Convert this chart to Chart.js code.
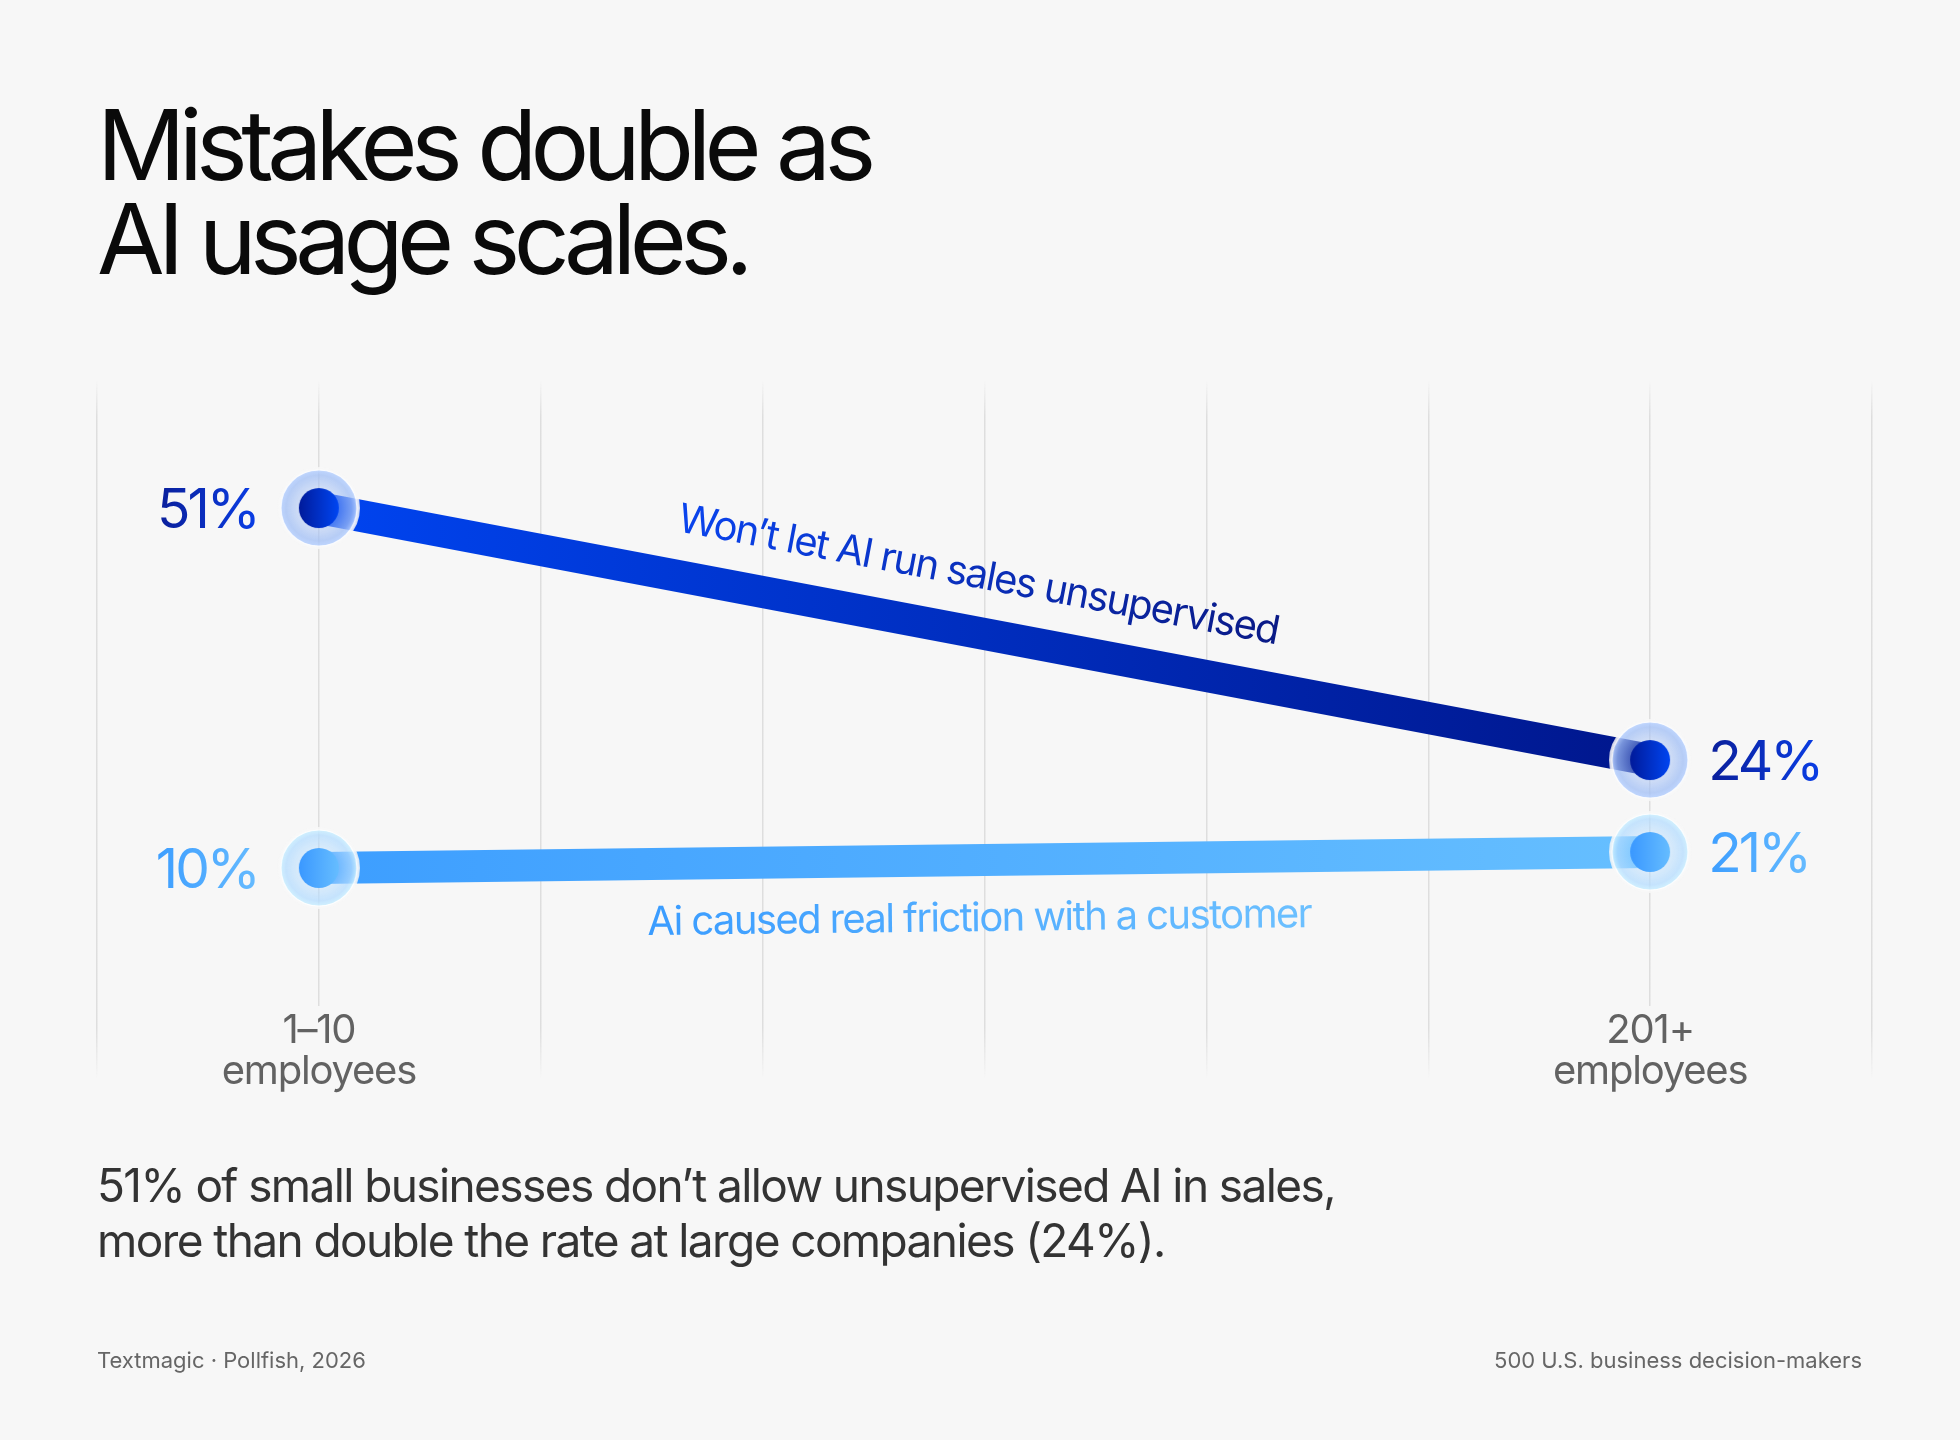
<!DOCTYPE html>
<html>
<head>
<meta charset="utf-8">
<title>Mistakes double as AI usage scales</title>
<script src="https://cdn.jsdelivr.net/npm/chart.js@4.4.1/dist/chart.umd.min.js"></script>
<style>
  html, body { margin: 0; padding: 0; background: #f7f7f7; }
  body { width: 1960px; height: 1440px; position: relative; overflow: hidden; font-family: Inter, "Noto Sans", sans-serif; }
  #chart { position: absolute; left: 0; top: 0; }
  .title { position: absolute; left: 97px; top: 98px; margin: 0; font-size: 98px; line-height: 94px; font-weight: 400; letter-spacing: -6.6px; color: #0a0a0a; }
  .note { position: absolute; left: 97px; top: 1158px; margin: 0; font-size: 46px; line-height: 55px; letter-spacing: -1.6px; color: #333; }
  .foot { position: absolute; top: 1347px; font-size: 22px; line-height: 26px; color: #666; }
</style>
</head>
<body>
<canvas id="chart" width="1960" height="1440"></canvas>
<h1 class="title">Mistakes double as<br>AI usage scales.</h1>
<p class="note">51% of small businesses don’t allow unsupervised AI in sales,<br>more than double the rate at large companies (24%).</p>
<div class="foot" style="left:97px">Textmagic · Pollfish, 2026</div>
<div class="foot" style="right:98px">500 U.S. business decision-makers</div>

<script>
// data
const categories = ['1–10 employees', '201+ employees'];
const categoryLines = [['1–10', 'employees'], ['201+', 'employees']];
const seriesNames = ['Won’t let AI run sales unsupervised', 'Ai caused real friction with a customer'];
const wontLetAI = [51, 24];
const aiFriction = [10, 21];

// layout of the grid: 8 columns, categories sit one column in from each edge
const GRID_COLS = 8;
const EDGE = 1;
const xAt = (i) => EDGE + i * (GRID_COLS - 2 * EDGE) / (categories.length - 1);
const toPoints = (vals) => vals.map((v, i) => ({ x: xAt(i), y: v }));

const BG = '#f7f7f7';
const FONT = 'Inter, "Noto Sans", sans-serif';
const styles = [
  { line: ['#0044f0', '#00168c'], dot: ['#001a9a', '#0046f2'], halo: [160, 190, 245], text: ['#0a1f9a', '#0a3ee6'], name: ['#0a44ee', '#0a1a86'], nameOffset: -44, nameShift: -17 },
  { line: ['#3d9eff', '#66bfff'], dot: ['#3a98ff', '#66bdff'], halo: [180, 220, 255], text: ['#3d9eff', '#66bbff'], name: ['#3a9cff', '#6cc0ff'], nameOffset: 71, nameShift: -6 }
];

function makeMarker(st) {
  const R = 38, r = 20, size = 2 * R + 8, m = size / 2;
  const c = document.createElement('canvas');
  c.width = c.height = size;
  const g = c.getContext('2d');
  const [hr, hg, hb] = st.halo;
  // thin ring of background colour around the glass halo
  g.beginPath(); g.arc(m, m, R + 1.5, 0, Math.PI * 2);
  g.lineWidth = 3; g.strokeStyle = 'rgba(247,247,247,0.9)'; g.stroke();
  const rg = g.createRadialGradient(m, m, r, m, m, R);
  rg.addColorStop(0, `rgba(${hr},${hg},${hb},0.45)`);
  rg.addColorStop(0.7, `rgba(${hr},${hg},${hb},0.75)`);
  rg.addColorStop(1, `rgba(${hr + 25},${hg + 20},255,0.9)`);
  g.beginPath(); g.arc(m, m, R, 0, Math.PI * 2);
  g.fillStyle = rg; g.fill();
  g.lineWidth = 1.2; g.strokeStyle = 'rgba(255,255,255,0.85)'; g.stroke();
  const lg = g.createLinearGradient(m - r, 0, m + r, 0);
  lg.addColorStop(0, st.dot[0]); lg.addColorStop(1, st.dot[1]);
  g.beginPath(); g.arc(m, m, r, 0, Math.PI * 2);
  g.fillStyle = lg; g.fill();
  return c;
}

function lineGradient(chart, colors) {
  const x = chart.scales.x;
  if (!chart.chartArea || !x) return colors[0];
  const g = chart.ctx.createLinearGradient(x.getPixelForValue(xAt(0)), 0, x.getPixelForValue(xAt(categories.length - 1)), 0);
  g.addColorStop(0, colors[0]); g.addColorStop(1, colors[1]);
  return g;
}

function fadeGrid(ctx) {
  const chart = ctx.chart, area = chart.chartArea;
  if (!area) return '#dedede';
  const g = chart.ctx.createLinearGradient(0, area.top, 0, area.bottom);
  g.addColorStop(0, 'rgba(222,222,222,0)');
  g.addColorStop(0.05, 'rgba(222,222,222,1)');
  g.addColorStop(0.93, 'rgba(222,222,222,1)');
  g.addColorStop(1, 'rgba(222,222,222,0)');
  return g;
}

function textGradient(ctx, x0, w, colors) {
  const g = ctx.createLinearGradient(x0, 0, x0 + w, 0);
  g.addColorStop(0, colors[0]); g.addColorStop(1, colors[1]);
  return g;
}

const labelPlugin = {
  id: 'labels',
  afterDatasetsDraw(chart) {
    const ctx = chart.ctx;
    const area = chart.chartArea;
    ctx.save();

    // category labels under the points
    const xs = chart.scales.x;
    ctx.font = '40px ' + FONT;
    ctx.letterSpacing = '-1.2px';
    ctx.textAlign = 'center';
    ctx.textBaseline = 'alphabetic';
    categoryLines.forEach((lines, i) => {
      const px = xs.getPixelForValue(xAt(i));
      const w = Math.max(...lines.map(t => ctx.measureText(t).width));
      ctx.fillStyle = BG;
      ctx.fillRect(px - w / 2 - 6, area.bottom - 72, w + 12, 100);
      ctx.fillStyle = '#626262';
      lines.forEach((t, k) => ctx.fillText(t, px, area.bottom - 35 + k * 41));
    });

    chart.data.datasets.forEach((ds, di) => {
      const st = styles[di];
      const pts = chart.getDatasetMeta(di).data;

      // value labels beside each point
      ctx.font = '55px ' + FONT;
      ctx.letterSpacing = '-3px';
      ctx.textBaseline = 'alphabetic';
      ctx.textAlign = 'left';
      pts.forEach((p, i) => {
        const t = ds.data[i].y + '%';
        const w = ctx.measureText(t).width;
        const x0 = i === 0 ? p.x - 61 - w : p.x + 58;
        ctx.fillStyle = textGradient(ctx, x0, w, st.text);
        ctx.fillText(t, x0, p.y + 20);
      });

      // series name along the line
      const a = pts[0], b = pts[pts.length - 1];
      const ang = Math.atan2(b.y - a.y, b.x - a.x);
      ctx.save();
      ctx.translate((a.x + b.x) / 2, (a.y + b.y) / 2);
      ctx.rotate(ang);
      ctx.font = '40px ' + FONT;
      ctx.letterSpacing = '-1.6px';
      const w = ctx.measureText(ds.label).width;
      const x0 = -w / 2 + st.nameShift;
      ctx.fillStyle = textGradient(ctx, x0, w, st.name);
      ctx.fillText(ds.label, x0, st.nameOffset);
      ctx.restore();
    });
    ctx.restore();
  }
};

const datasets = [wontLetAI, aiFriction].map((vals, i) => ({
  label: seriesNames[i],
  data: toPoints(vals),
  yAxisID: i === 0 ? 'yDark' : 'yLight',
  borderColor: (c) => lineGradient(c.chart, styles[i].line),
  borderWidth: 32,
  borderCapStyle: 'butt',
  pointStyle: makeMarker(styles[i]),
  pointRadius: 40,
  tension: 0
}));

new Chart(document.getElementById('chart'), {
  type: 'line',
  data: { datasets },
  options: {
    responsive: false,
    animation: false,
    events: [],
    layout: { padding: { left: 97, right: 88, top: 381, bottom: 362 } },
    plugins: { legend: { display: false }, tooltip: { enabled: false } },
    scales: {
      x: {
        type: 'linear', min: 0, max: GRID_COLS,
        ticks: { display: false, stepSize: 1 },
        border: { display: false },
        grid: { color: fadeGrid, lineWidth: 1.5, drawTicks: false }
      },
      // each series is drawn on its own hidden scale, as in the original design
      yDark: { type: 'linear', display: false, min: -10.07, max: 64.61 },
      yLight: { type: 'linear', display: false, min: -134.4, max: 344.8 }
    }
  },
  plugins: [labelPlugin]
});
</script>
</body>
</html>
